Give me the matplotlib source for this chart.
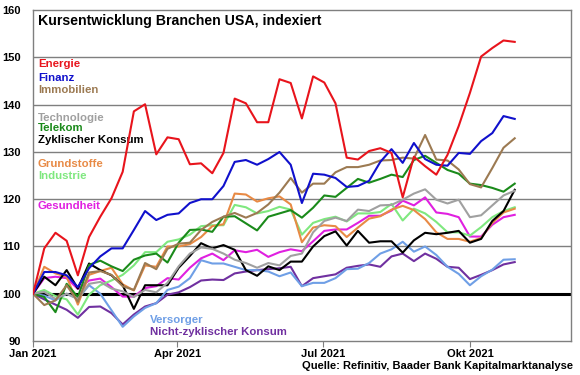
import matplotlib
matplotlib.use('Agg')
import matplotlib.pyplot as plt
import matplotlib.dates as mdates
import pandas as pd

plt.rcParams['font.family'] = ['Liberation Sans', 'DejaVu Sans']
plt.rcParams['font.weight'] = 'bold'

# weekly index values, Jan 1 2021 = 100
dates = pd.date_range('2021-01-01', periods=44, freq='7D')

energie = [100, 109.6, 112.9, 111.2, 103.9, 112.0, 116.3, 120.2, 125.8, 138.6,
           140.1, 129.5, 133.1, 132.7, 127.4, 127.6, 125.5, 129.8, 141.3, 140.3,
           136.3, 136.3, 145.4, 144.6, 137.1, 146.0, 144.7, 140.3, 128.8, 128.4,
           130.2, 130.8, 129.8, 120.4, 129.0, 127.0, 125.2, 129.4, 135.5, 142.5,
           150.2, 152.0, 153.6, 153.3]
finanz = [100, 104.6, 104.6, 103.9, 101.4, 105.4, 107.9, 109.6, 109.6, 113.5,
          117.5, 115.6, 116.7, 117.0, 119.2, 120.0, 120.0, 122.8, 127.9, 128.3,
          127.3, 128.5, 130.0, 127.3, 119.2, 125.4, 125.2, 124.5, 122.6, 122.8,
          123.9, 127.9, 130.6, 127.7, 131.9, 128.5, 127.3, 127.1, 129.8, 129.6,
          132.3, 134.0, 137.6, 137.0]
immobilien = [100, 97.6, 98.6, 101.8, 98.3, 104.5, 104.8, 104.0, 101.6, 100.8,
              106.5, 105.2, 109.5, 110.6, 110.8, 113.5, 115.2, 116.3, 117.1, 116.1,
              117.1, 118.9, 121.4, 124.5, 121.4, 123.3, 123.3, 125.7, 126.8, 126.8,
              127.3, 128.2, 128.3, 128.8, 128.6, 133.6, 128.4, 128.2, 126.3, 123.2,
              122.5, 126.6, 130.9, 132.9]
technologie = [100, 100.4, 98.9, 100.0, 98.9, 102.1, 102.5, 101.1, 100.5, 99.3,
               100.8, 100.3, 102.3, 105.8, 108.5, 109.8, 109.5, 108.5, 107.2, 106.5,
               105.5, 106.5, 106.0, 108.0, 108.5, 113.0, 115.4, 116.1, 115.4, 117.8,
               117.5, 118.7, 118.8, 119.9, 121.2, 122.1, 119.9, 119.1, 119.9, 116.2,
               116.6, 118.7, 120.8, 121.8]
telekom = [100, 99.3, 96.1, 102.1, 99.3, 106.1, 107.0, 105.8, 104.8, 107.2,
           108.1, 108.5, 106.6, 110.8, 113.5, 113.6, 113.1, 116.3, 116.4, 114.9,
           113.4, 116.3, 117.0, 117.7, 116.1, 118.2, 120.8, 120.5, 122.4, 124.3,
           123.5, 124.3, 125.2, 124.7, 128.3, 129.2, 127.7, 126.2, 125.4, 123.3,
           123.0, 122.4, 121.6, 123.3]
zyklisch = [100, 103.6, 101.8, 105.0, 101.1, 106.4, 105.0, 103.9, 101.8, 96.8,
            101.8, 101.8, 101.8, 105.5, 108.0, 110.7, 109.6, 110.3, 109.3, 105.0,
            103.8, 105.8, 105.0, 106.8, 106.8, 110.0, 112.2, 113.2, 110.2, 113.3,
            110.8, 111.1, 111.1, 108.7, 111.3, 112.9, 112.6, 112.9, 113.3, 110.8,
            111.6, 115.4, 117.5, 122.0]
grundstoffe = [100, 105.7, 104.3, 103.6, 97.7, 104.0, 104.8, 105.5, 102.0, 100.7,
               106.0, 105.7, 110.0, 110.0, 110.5, 112.0, 114.3, 114.7, 121.2, 121.0,
               119.5, 120.2, 120.6, 118.9, 110.9, 114.0, 114.5, 114.3, 112.0, 114.0,
               115.9, 116.4, 117.8, 118.6, 117.7, 115.8, 113.0, 111.6, 111.6, 111.0,
               111.8, 115.0, 117.2, 118.0]
industrie = [100, 100.8, 99.5, 98.8, 95.6, 99.8, 101.8, 102.8, 104.0, 106.0,
             108.8, 108.8, 111.0, 111.5, 112.5, 114.3, 114.5, 114.5, 118.8, 118.3,
             117.0, 117.5, 118.4, 117.8, 112.5, 115.0, 115.8, 116.3, 115.3, 117.0,
             117.0, 117.3, 119.0, 115.5, 118.0, 117.0, 115.2, 113.0, 113.0, 112.3,
             114.1, 116.2, 117.5, 118.3]
gesundheit = [100, 103.3, 103.6, 103.3, 101.0, 102.8, 103.2, 101.4, 99.4, 99.4,
              101.2, 101.6, 103.3, 103.0, 105.5, 107.5, 108.5, 107.1, 109.2, 108.8,
              109.3, 107.8, 108.8, 109.4, 109.0, 111.1, 113.3, 113.6, 113.6, 115.0,
              116.5, 116.5, 117.6, 119.7, 118.7, 120.4, 117.2, 116.9, 116.2, 112.1,
              112.1, 114.6, 116.2, 116.7]
versorger = [100, 99.6, 98.6, 100.0, 98.9, 101.8, 100.0, 96.5, 93.0, 95.2,
             97.0, 98.0, 100.8, 101.5, 103.3, 107.1, 106.4, 106.4, 105.7, 105.0,
             105.0, 104.7, 103.7, 104.5, 101.6, 102.3, 102.3, 103.3, 105.2, 105.3,
             106.5, 108.5, 109.4, 111.0, 108.9, 110.0, 108.2, 105.7, 104.2, 101.8,
             103.7, 105.1, 107.2, 107.3]
nichtzykl = [100, 98.8, 97.7, 96.6, 94.9, 97.2, 97.3, 95.9, 93.5, 95.6,
             97.3, 98.0, 99.8, 100.3, 101.4, 102.8, 103.0, 102.9, 104.3, 104.7,
             105.0, 105.2, 105.4, 105.7, 101.6, 103.3, 103.7, 104.1, 105.5, 105.9,
             106.2, 105.7, 107.9, 108.5, 106.9, 108.5, 107.4, 105.7, 105.5, 103.1,
             104.0, 105.0, 106.2, 106.7]

# (name, values, colour, label y, label x in axes fraction)
series = [
    ('Nicht-zyklischer Konsum', nichtzykl, '#7030a0', 91.8, 0.217),
    ('Versorger', versorger, '#6f9fe6', 94.5, 0.217),
    ('Gesundheit', gesundheit, '#e020e0', 118.6, 0.009),
    ('Industrie', industrie, '#7fe87f', 125.0, 0.009),
    ('Grundstoffe', grundstoffe, '#e88a45', 127.4, 0.009),
    ('Zyklischer Konsum', zyklisch, '#000000', 132.6, 0.009),
    ('Telekom', telekom, '#1a8a1a', 135.0, 0.009),
    ('Technologie', technologie, '#a0a0a0', 137.1, 0.009),
    ('Immobilien', immobilien, '#9c7a52', 143.1, 0.009),
    ('Finanz', finanz, '#1010cc', 145.7, 0.009),
    ('Energie', energie, '#e8141c', 148.6, 0.009),
]

fig = plt.figure(figsize=(5.8, 3.75), dpi=100)
ax = fig.add_axes([0.057, 0.0907, 0.927, 0.882])

for y in [110, 120, 130, 140, 150]:
    ax.axhline(y, color='#7f7f7f', lw=1.0, zorder=1)
ax.axhline(100, color='black', lw=2.2, zorder=2)

for name, vals, col, ly, lx in series:
    ax.plot(dates, vals, color=col, lw=1.5, zorder=3)
    ax.text(lx, ly, name, color=col, fontsize=8.2, fontweight='bold',
            va='center', ha='left', transform=ax.get_yaxis_transform())

ax.text(0.009, 157.8, 'Kursentwicklung Branchen USA, indexiert', fontsize=10.2,
        fontweight='bold', va='center', ha='left', transform=ax.get_yaxis_transform())

ax.set_ylim(90, 160)
ax.set_yticks([90, 100, 110, 120, 130, 140, 150, 160])
ax.set_xlim(pd.Timestamp('2021-01-01'), pd.Timestamp('2021-12-03'))
ticks = pd.to_datetime(['2021-01-01', '2021-04-01', '2021-07-01', '2021-10-01'])
ax.set_xticks(ticks)
ax.set_xticklabels(['Jan 2021', 'Apr 2021', 'Jul 2021', 'Okt 2021'])

ax.tick_params(axis='y', length=0, pad=9, labelsize=8)
ax.tick_params(axis='x', length=4, color='#7f7f7f', pad=2, labelsize=8)
for lab in ax.get_xticklabels() + ax.get_yticklabels():
    lab.set_fontweight('bold')
for s in ax.spines.values():
    s.set_color('#7f7f7f')
    s.set_linewidth(1.0)

fig.text(0.988, 0.024, 'Quelle: Refinitiv, Baader Bank Kapitalmarktanalyse',
         fontsize=8, fontweight='bold', ha='right', va='center')

fig.savefig('out.png', dpi=100)
